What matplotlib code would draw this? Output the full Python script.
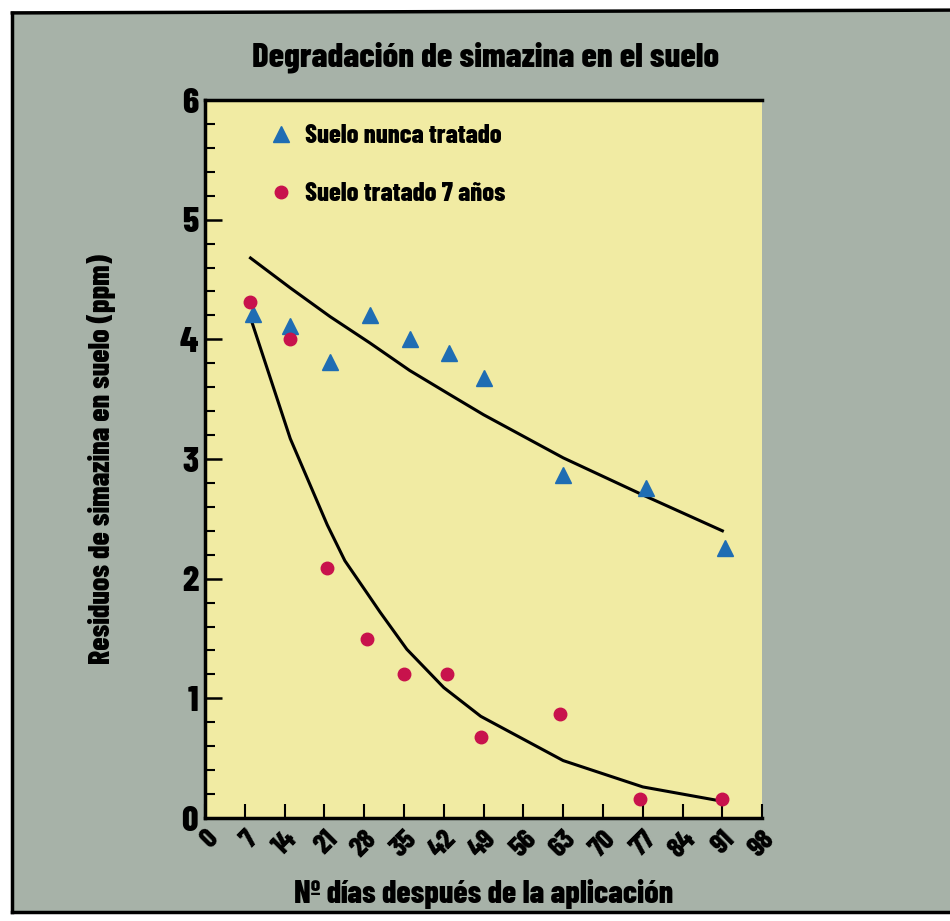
import numpy as np
import matplotlib
matplotlib.use('Agg')
import matplotlib.pyplot as plt
from matplotlib.lines import Line2D
from matplotlib.patches import Rectangle
from matplotlib.ticker import MultipleLocator

plt.rcParams['font.family'] = ['Barlow Condensed', 'DejaVu Sans']
plt.rcParams['font.weight'] = 'heavy'

# datos
dias_nunca = [8.5, 15, 22, 29, 36, 43, 49, 63, 77.5, 91.5]
res_nunca = [4.21, 4.11, 3.81, 4.2, 4.0, 3.89, 3.68, 2.87, 2.76, 2.26]

dias_tratado = [8, 15, 21.5, 28.5, 35, 42.5, 48.5, 62.5, 76.5, 91]
res_tratado = [4.31, 4.0, 2.09, 1.5, 1.2, 1.2, 0.68, 0.87, 0.16, 0.16]

# curvas de ajuste (vertices leidos)
ajuste_nunca_x = [8, 15, 22, 29, 36, 43, 49, 63, 77, 91]
ajuste_nunca_y = [4.68, 4.43, 4.19, 3.97, 3.74, 3.54, 3.37, 3.01, 2.70, 2.40]
ajuste_trat_x = [8, 15, 21.5, 24.6, 28.5, 30.8, 35.5, 42, 48.5, 63, 77, 91]
ajuste_trat_y = [4.18, 3.17, 2.45, 2.15, 1.88, 1.72, 1.41, 1.09, 0.85, 0.48, 0.26, 0.14]

xticks = list(range(0, 99, 7))
yticks = [0, 1, 2, 3, 4, 5, 6]

fondo = '#a7b2a8'
amarillo = '#f1eba3'
azul = '#1f6db3'
rojo = '#c8124c'

fig = plt.figure(figsize=(9.5, 9.21), dpi=100)
fig.patch.set_facecolor('white')

# marco gris del recuadro
fig.add_artist(Rectangle((0.013, 0.0095), 0.987, 0.977, transform=fig.transFigure,
                         facecolor=fondo, edgecolor='none', zorder=0))
fig.add_artist(Line2D([0.013, 1.0], [0.986, 0.989], transform=fig.transFigure, color='k', lw=2.5))
fig.add_artist(Line2D([0.013, 0.013], [0.986, 0.0095], transform=fig.transFigure, color='k', lw=2.5))
fig.add_artist(Line2D([0.013, 1.0], [0.0095, 0.0095], transform=fig.transFigure, color='k', lw=2.5))

ax = fig.add_axes([0.2158, 0.1118, 0.5865, 0.7796])
ax.set_facecolor(amarillo)

ax.plot(ajuste_nunca_x, ajuste_nunca_y, color='k', lw=2.2, zorder=2)
ax.plot(ajuste_trat_x, ajuste_trat_y, color='k', lw=2.2, zorder=2)

ax.plot(dias_nunca, res_nunca, linestyle='none', marker='^', ms=11, color=azul,
        label='Suelo nunca tratado', zorder=3)
ax.plot(dias_tratado, res_tratado, linestyle='none', marker='o', ms=9, color=rojo,
        label='Suelo tratado 7 años', zorder=3)

ax.set_xlim(0, 98)
ax.set_ylim(0, 6)
ax.set_xticks(xticks)
ax.set_xticklabels([str(t) for t in xticks], rotation=45, ha='right', va='top',
                   rotation_mode='anchor', fontsize=20, fontweight='heavy')
ax.set_yticks(yticks)
ax.set_yticklabels([str(t) for t in yticks], fontsize=26, fontweight='heavy')
ax.yaxis.set_minor_locator(MultipleLocator(0.2))

ax.tick_params(axis='x', direction='in', length=10, width=1.5, pad=6)
ax.tick_params(axis='y', which='major', direction='in', length=12, width=1.8, pad=5)
ax.tick_params(axis='y', which='minor', direction='in', length=7, width=1.5)

for s in ['left', 'bottom', 'top']:
    ax.spines[s].set_linewidth(2.5)
ax.spines['right'].set_visible(False)

ax.set_xlabel('Nº días después de la aplicación', fontsize=23, fontweight='heavy', labelpad=12)
ax.set_ylabel('Residuos de simazina en suelo (ppm)', fontsize=21.5, fontweight='heavy', labelpad=46)
fig.text(0.511, 0.938, 'Degradación de simazina en el suelo', ha='center', va='center',
         fontsize=25, fontweight='heavy')

leg = ax.legend(loc='upper left', bbox_to_anchor=(0.065, 1.0), frameon=False,
                prop={'size': 19, 'weight': 'heavy'}, labelspacing=1.3,
                handletextpad=0.3, handlelength=1.2, numpoints=1)

fig.savefig('out.png', dpi=100, facecolor=fig.get_facecolor())
